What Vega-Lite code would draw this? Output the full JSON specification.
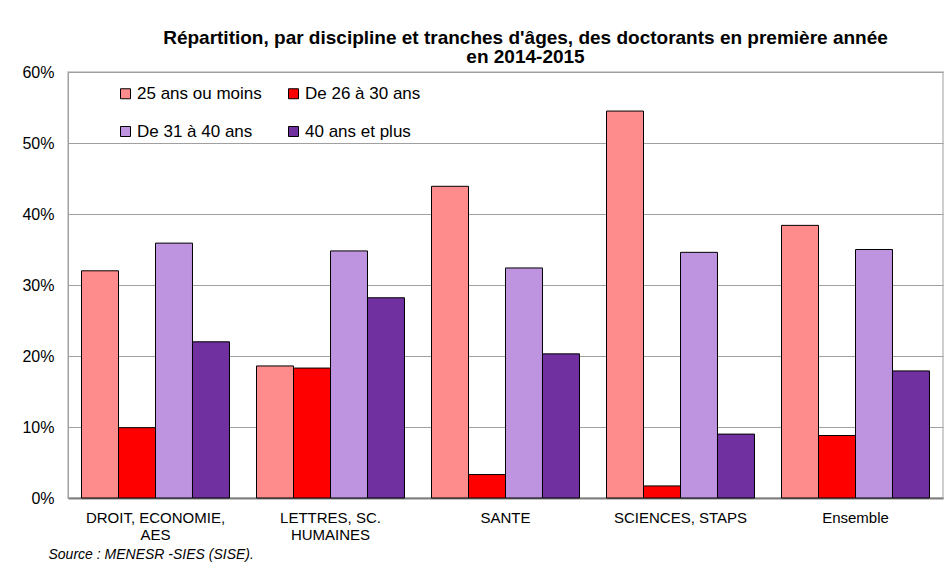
{
  "$schema": "https://vega.github.io/schema/vega-lite/v6.json",
  "width": 875,
  "height": 426,
  "autosize": {"type": "none"},
  "padding": {"left": 68, "top": 72, "right": 5, "bottom": 65},
  "background": "white",
  "title": {
    "text": ["Répartition, par discipline et tranches d'âges, des doctorants en première année", "en 2014-2015"],
    "font": "Liberation Sans",
    "fontSize": 19,
    "fontWeight": "bold",
    "color": "black",
    "anchor": "middle",
    "dx": 20,
    "dy": 5,
    "offset": 2,
    "lineHeight": 19
  },
  "data": {
    "values": [
      {"discipline": "DROIT, ECONOMIE, AES", "age": "25 ans ou moins", "pct": 32.0},
      {"discipline": "DROIT, ECONOMIE, AES", "age": "De 26 à 30 ans", "pct": 9.9},
      {"discipline": "DROIT, ECONOMIE, AES", "age": "De 31 à 40 ans", "pct": 35.9},
      {"discipline": "DROIT, ECONOMIE, AES", "age": "40 ans et plus", "pct": 22.0},
      {"discipline": "LETTRES, SC. HUMAINES", "age": "25 ans ou moins", "pct": 18.6},
      {"discipline": "LETTRES, SC. HUMAINES", "age": "De 26 à 30 ans", "pct": 18.3},
      {"discipline": "LETTRES, SC. HUMAINES", "age": "De 31 à 40 ans", "pct": 34.8},
      {"discipline": "LETTRES, SC. HUMAINES", "age": "40 ans et plus", "pct": 28.2},
      {"discipline": "SANTE", "age": "25 ans ou moins", "pct": 43.9},
      {"discipline": "SANTE", "age": "De 26 à 30 ans", "pct": 3.3},
      {"discipline": "SANTE", "age": "De 31 à 40 ans", "pct": 32.4},
      {"discipline": "SANTE", "age": "40 ans et plus", "pct": 20.3},
      {"discipline": "SCIENCES, STAPS", "age": "25 ans ou moins", "pct": 54.5},
      {"discipline": "SCIENCES, STAPS", "age": "De 26 à 30 ans", "pct": 1.7},
      {"discipline": "SCIENCES, STAPS", "age": "De 31 à 40 ans", "pct": 34.6},
      {"discipline": "SCIENCES, STAPS", "age": "40 ans et plus", "pct": 9.0},
      {"discipline": "Ensemble", "age": "25 ans ou moins", "pct": 38.4},
      {"discipline": "Ensemble", "age": "De 26 à 30 ans", "pct": 8.8},
      {"discipline": "Ensemble", "age": "De 31 à 40 ans", "pct": 35.0},
      {"discipline": "Ensemble", "age": "40 ans et plus", "pct": 17.9}
    ]
  },
  "mark": {"type": "bar", "stroke": "black", "strokeWidth": 1},
  "encoding": {
    "x": {
      "field": "discipline",
      "type": "nominal",
      "sort": ["DROIT, ECONOMIE, AES", "LETTRES, SC. HUMAINES", "SANTE", "SCIENCES, STAPS", "Ensemble"],
      "scale": {"paddingInner": 0, "paddingOuter": 0},
      "axis": {
        "labelAngle": 0,
        "labelExpr": "datum.value == 'DROIT, ECONOMIE, AES' ? ['DROIT, ECONOMIE,', 'AES'] : datum.value == 'LETTRES, SC. HUMAINES' ? ['LETTRES, SC.', 'HUMAINES'] : datum.value",
        "labelFont": "Liberation Sans",
        "labelFontSize": 15,
        "labelColor": "black",
        "labelPadding": 12,
        "labelLineHeight": 17,
        "ticks": false,
        "domainColor": "#808080",
        "domainWidth": 2,
        "title": "Source : MENESR -SIES (SISE).",
        "titleFont": "Liberation Sans",
        "titleFontSize": 14,
        "titleFontStyle": "italic",
        "titleFontWeight": "normal",
        "titleColor": "black",
        "titleAnchor": "start",
        "titleAlign": "left",
        "titleX": -20,
        "titleY": 60,
        "titleBaseline": "alphabetic"
      }
    },
    "xOffset": {
      "field": "age",
      "type": "nominal",
      "sort": ["25 ans ou moins", "De 26 à 30 ans", "De 31 à 40 ans", "40 ans et plus"],
      "scale": {"paddingInner": 0, "paddingOuter": 0.365}
    },
    "y": {
      "field": "pct",
      "type": "quantitative",
      "scale": {"domain": [0, 60], "nice": false},
      "axis": {
        "values": [0, 10, 20, 30, 40, 50, 60],
        "labelExpr": "datum.value + '%'",
        "labelFont": "Liberation Sans",
        "labelFontSize": 16,
        "labelColor": "black",
        "labelPadding": 14,
        "ticks": false,
        "domainColor": "#a0a0a0",
        "gridColor": "#a0a0a0",
        "gridWidth": 1,
        "title": null
      }
    },
    "color": {
      "field": "age",
      "type": "nominal",
      "scale": {
        "domain": ["25 ans ou moins", "De 26 à 30 ans", "De 31 à 40 ans", "40 ans et plus"],
        "range": ["#FF8C8C", "#FF0000", "#BE93DF", "#7030A0"]
      },
      "legend": {
        "orient": "none",
        "direction": "horizontal",
        "legendX": 49,
        "legendY": 13,
        "columns": 2,
        "title": null,
        "symbolType": "square",
        "symbolSize": 100,
        "symbolStrokeColor": "black",
        "symbolStrokeWidth": 1,
        "symbolOpacity": 1,
        "labelFont": "Liberation Sans",
        "labelFontSize": 17,
        "labelColor": "black",
        "labelOffset": 3,
        "rowPadding": 20,
        "columnPadding": 23
      }
    }
  },
  "config": {
    "view": {"stroke": "#c0c0c0", "strokeWidth": 1.5}
  }
}
